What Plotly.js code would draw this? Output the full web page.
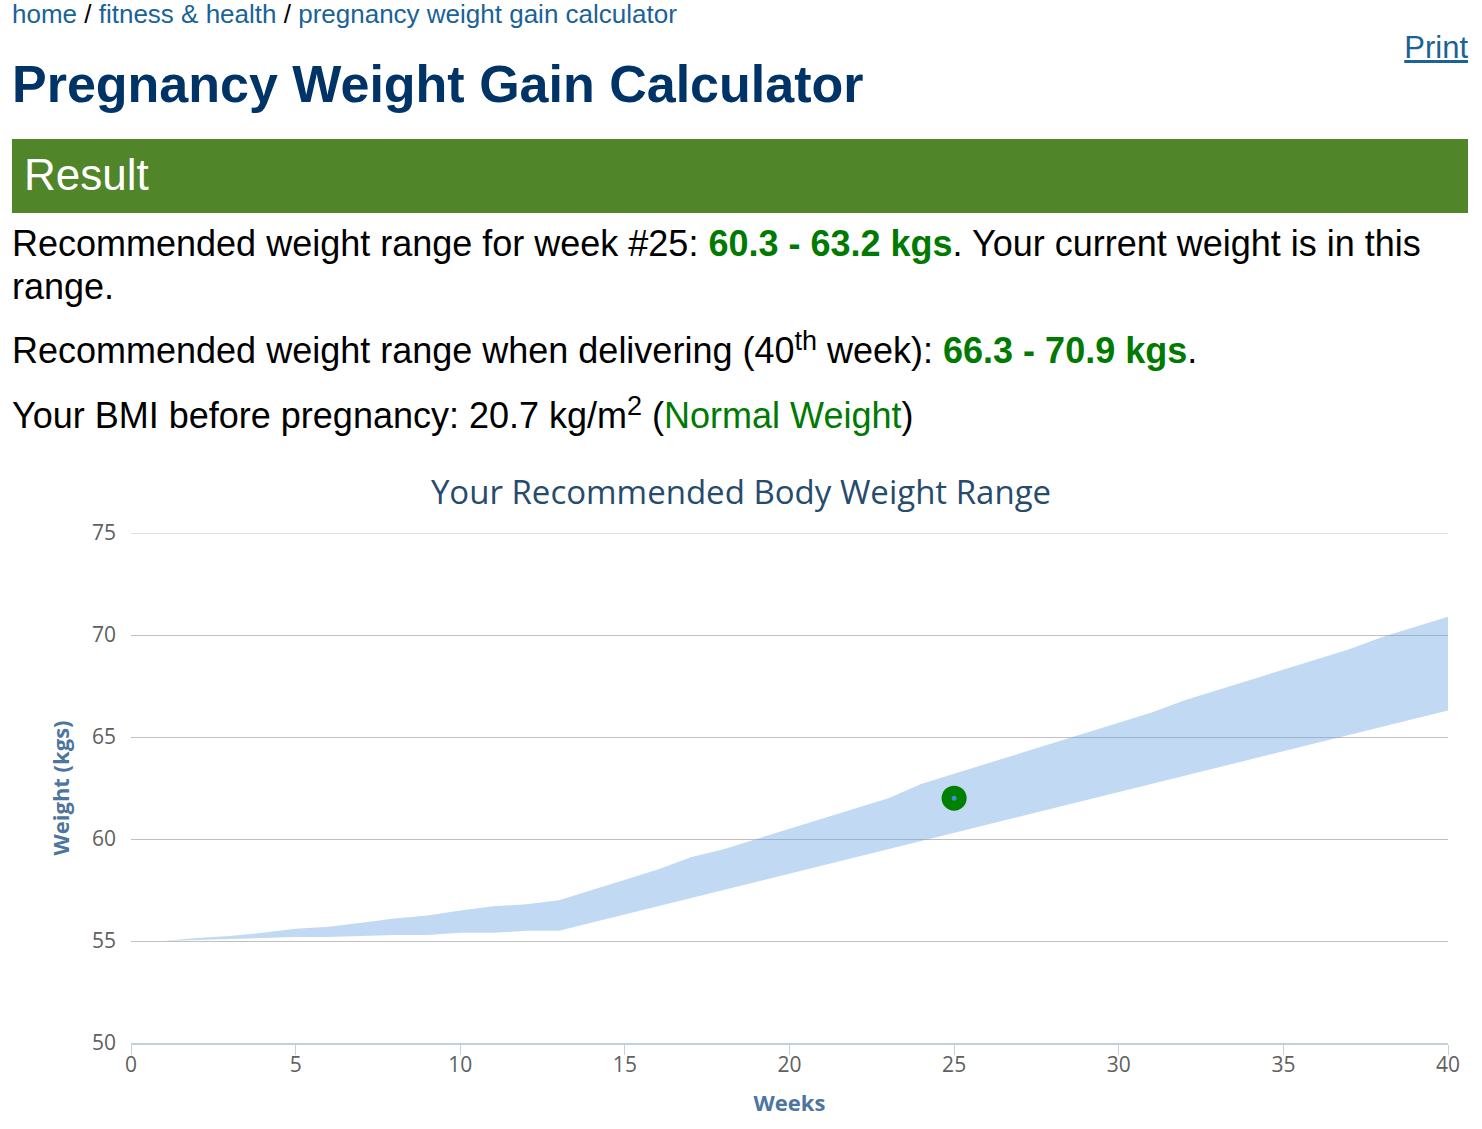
<!DOCTYPE html>
<html>
<head>
<meta charset="utf-8">
<script src="https://cdn.plot.ly/plotly-3.0.1.min.js"></script>
<style>
  html, body { margin: 0; padding: 0; background: #fff; width: 1482px; height: 1129px; overflow: hidden; font-family: "Liberation Sans", Arial, sans-serif; }
  .abs { position: absolute; white-space: nowrap; }
  a { color: #1a6396; text-decoration: none; }
  #crumb { left: 12px; top: -1px; font-size: 26px; color: #000; }
  #print { right: 14px; top: 30px; font-size: 31px; }
  #print a { text-decoration: underline; color: #1a6396; }
  #h1 { left: 12px; top: 54px; font-size: 52px; font-weight: bold; color: #003366; }
  #bar { left: 12px; top: 139px; width: 1456px; height: 74px; background: #51852a; }
  #bar span { position: absolute; left: 12px; top: 11px; font-size: 44px; color: #fff; }
  .line { left: 12px; font-size: 36px; color: #000; }
  .g { color: #007a00; font-weight: bold; }
  .gn { color: #007a00; }
  sup { font-size: 0.75em; line-height: 0; }
  #chart { position: absolute; left: 0; top: 460px; width: 1482px; height: 669px; }
</style>
</head>
<body>
<div class="abs" id="crumb"><a>home</a> / <a>fitness &amp; health</a> / <a>pregnancy weight gain calculator</a></div>
<div class="abs" id="print"><a>Print</a></div>
<div class="abs" id="h1">Pregnancy Weight Gain Calculator</div>
<div class="abs" id="bar"><span>Result</span></div>
<div class="abs line" style="top:223px;">Recommended weight range for week #25: <span class="g">60.3 - 63.2 kgs</span>. Your current weight is in this</div>
<div class="abs line" style="top:266px;">range.</div>
<div class="abs line" style="top:330px;">Recommended weight range when delivering (40<sup>th</sup> week): <span class="g">66.3 - 70.9 kgs</span>.</div>
<div class="abs line" style="top:395px;">Your BMI before pregnancy: 20.7 kg/m<sup>2</sup> (<span class="gn">Normal Weight</span>)</div>
<div id="chart"></div>
<script>
// Data
const weeks = [1,2,3,4,5,6,7,8,9,10,11,12,13,14,15,16,17,18,19,20,21,22,23,24,25,26,27,28,29,30,31,32,33,34,35,36,37,38,39,40];
const upperKg = [55.0,55.15,55.25,55.4,55.6,55.7,55.9,56.1,56.25,56.5,56.7,56.8,57.0,57.5,58.0,58.5,59.1,59.5,60.0,60.5,61.0,61.5,62.0,62.7,63.2,63.7,64.2,64.7,65.2,65.7,66.2,66.8,67.3,67.8,68.3,68.8,69.3,69.9,70.4,70.9];
const lowerKg = [55.0,55.05,55.1,55.15,55.2,55.2,55.25,55.3,55.3,55.4,55.4,55.5,55.5,55.9,56.3,56.7,57.1,57.5,57.9,58.3,58.7,59.1,59.5,59.9,60.3,60.7,61.1,61.5,61.9,62.3,62.7,63.1,63.5,63.9,64.3,64.7,65.1,65.5,65.9,66.3];
const currentWeek = [25];
const currentKg = [62.0];
const xTicks = [0,5,10,15,20,25,30,35,40];
const yTicks = [50,55,60,65,70,75];

const bandColor = 'rgba(100,160,225,0.4)';
const traces = [
  { x: weeks, y: lowerKg, type: 'scatter', mode: 'lines', line: { width: 0, color: bandColor }, hoverinfo: 'skip', showlegend: false },
  { x: weeks, y: upperKg, type: 'scatter', mode: 'lines', fill: 'tonexty', fillcolor: bandColor, line: { width: 0, color: bandColor }, hoverinfo: 'skip', showlegend: false },
  { x: currentWeek, y: currentKg, type: 'scatter', mode: 'markers', marker: { size: 25, color: '#008000', line: { width: 0 } }, showlegend: false },
  { x: currentWeek, y: currentKg, type: 'scatter', mode: 'markers', marker: { size: 5, color: '#3a8ee0', line: { width: 0 } }, showlegend: false }
];

const yMax = yTicks[yTicks.length - 1];
const layout = {
  width: 1482, height: 669,
  margin: { l: 131, r: 34, t: 73, b: 86 },
  paper_bgcolor: '#ffffff', plot_bgcolor: '#ffffff',
  font: { family: '"Open Sans", sans-serif', color: '#606060' },
  title: { text: 'Your Recommended Body Weight Range', x: 0.5, xref: 'container', xanchor: 'center', y: 0.952, yanchor: 'middle', font: { size: 33, color: '#274b6d', family: '"Open Sans", sans-serif' } },
  xaxis: {
    range: [0, 40], tickvals: xTicks, ticktext: xTicks.map(String),
    showgrid: false, zeroline: false,
    showline: true, linecolor: '#c0d0e0', linewidth: 2,
    ticks: 'outside', ticklen: 10, tickcolor: '#c0d0e0', tickwidth: 1,
    ticklabelstandoff: -8,
    tickfont: { size: 21, color: '#606060' },
    title: { text: '<b>Weeks</b>', font: { size: 22, color: '#4d759e' }, standoff: 18 },
    fixedrange: true
  },
  yaxis: {
    range: [50, 75], tickvals: yTicks, ticktext: yTicks.map(String),
    showgrid: true, gridcolor: '#c0c0c0', gridwidth: 1,
    zeroline: false, showline: false, ticks: '',
    ticklabelstandoff: 14,
    tickfont: { size: 21, color: '#606060' },
    title: { text: '<b>Weight (kgs)</b>', font: { size: 22, color: '#4d759e' }, standoff: 16 },
    fixedrange: true
  },
  shapes: [
    { type: 'line', xref: 'paper', x0: 0, x1: 1, yref: 'y', y0: yMax, y1: yMax, line: { color: '#c0c0c0', width: 1 }, layer: 'below' }
  ],
  showlegend: false
};

Plotly.newPlot('chart', traces, layout, { displayModeBar: false, staticPlot: true });
</script>
</body>
</html>
